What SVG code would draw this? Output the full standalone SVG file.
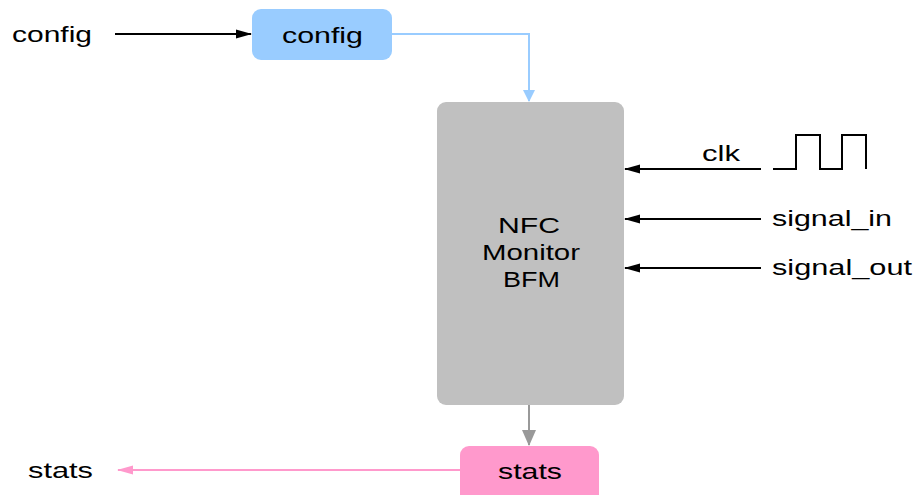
<svg xmlns="http://www.w3.org/2000/svg" width="919" height="495" viewBox="0 0 919 495">
<style>
text{font-family:"Liberation Sans",Arial,sans-serif;font-size:22px;fill:#000}
.ln{fill:none;stroke-width:2}
</style>
<defs>
<marker id="ak" markerWidth="16" markerHeight="10" refX="15" refY="5" orient="auto" markerUnits="userSpaceOnUse"><path d="M0,0.5L16,5L0,9.5z" fill="#000"/></marker>
<marker id="ab" markerWidth="12" markerHeight="16" refX="11" refY="6" orient="auto" markerUnits="userSpaceOnUse"><path d="M0,0L12,6L0,12z" fill="#99ccff"/></marker>
<marker id="ag" markerWidth="16" markerHeight="14" refX="15" refY="7" orient="auto" markerUnits="userSpaceOnUse"><path d="M0,0L16,7L0,14z" fill="#999999"/></marker>
<marker id="ap" markerWidth="16" markerHeight="10" refX="15" refY="5" orient="auto" markerUnits="userSpaceOnUse"><path d="M0,0.5L16,5L0,9.5z" fill="#ff99cc"/></marker>
</defs>
<g id="connectors">
<path class="ln" d="M115,34H251" stroke="#000" marker-end="url(#ak)"/>
<path class="ln" d="M392,34H529V101" stroke="#99ccff" marker-end="url(#ab)"/>
<path class="ln" d="M761,169H625" stroke="#000" marker-end="url(#ak)"/>
<path class="ln" d="M761,219H625" stroke="#000" marker-end="url(#ak)"/>
<path class="ln" d="M761,268H625" stroke="#000" marker-end="url(#ak)"/>
<path class="ln" d="M529,405V445" stroke="#999999" marker-end="url(#ag)"/>
<path class="ln" d="M460,470H118" stroke="#ff99cc" marker-end="url(#ap)"/>
</g>
<g id="config_in"><text x="12" y="42" textLength="80" lengthAdjust="spacingAndGlyphs">config</text></g>
<g id="config">
<rect x="252" y="9" width="140" height="51" rx="9" fill="#99ccff"/>
<text x="282" y="43" textLength="81" lengthAdjust="spacingAndGlyphs">config</text>
</g>
<g id="bfm">
<rect x="437" y="102" width="187" height="303" rx="9" fill="#c0c0c0"/>
<text x="498" y="233" textLength="62" lengthAdjust="spacingAndGlyphs">NFC</text>
<text x="482" y="260" textLength="98" lengthAdjust="spacingAndGlyphs">Monitor</text>
<text x="503" y="287" textLength="57" lengthAdjust="spacingAndGlyphs">BFM</text>
</g>
<g id="clk">
<text x="702" y="161" textLength="38" lengthAdjust="spacingAndGlyphs">clk</text>
<path class="ln" d="M773,169H796V135H820V169H842V135H866V169" stroke="#000"/>
</g>
<g id="signal_in"><text x="772" y="226" textLength="120" lengthAdjust="spacingAndGlyphs">signal_in</text></g>
<g id="signal_out"><text x="772" y="275" textLength="140" lengthAdjust="spacingAndGlyphs">signal_out</text></g>
<g id="stats">
<rect x="460" y="446" width="139" height="58" rx="9" fill="#ff99cc"/>
<text x="498" y="479" textLength="64" lengthAdjust="spacingAndGlyphs">stats</text>
</g>
<g id="stats_out"><text x="28" y="478" textLength="65" lengthAdjust="spacingAndGlyphs">stats</text></g>
</svg>
